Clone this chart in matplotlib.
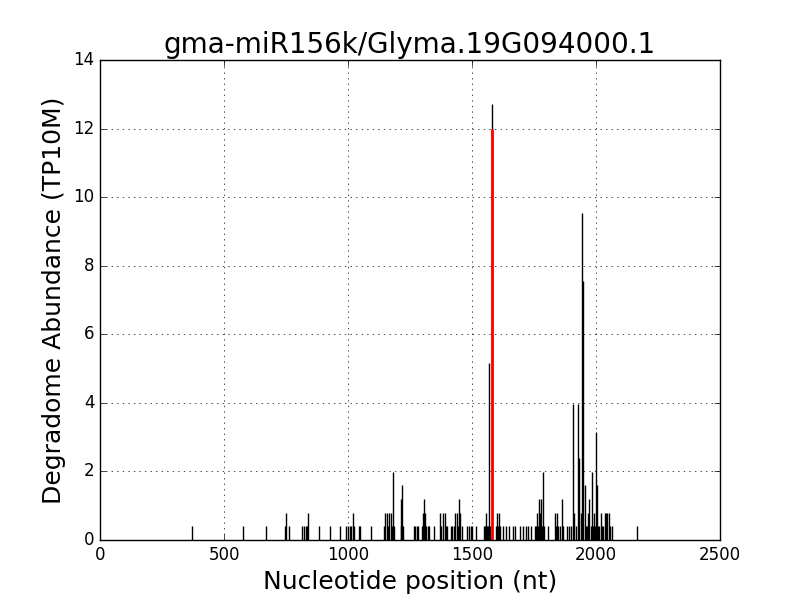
import matplotlib
matplotlib.use("Agg")
import matplotlib.pyplot as plt

# degradome reads: position (nt) and abundance (TP10M)
positions = [
    372, 578, 668, 747, 752, 763, 816, 824, 829, 835, 840, 883, 929, 969,
    993, 1001, 1009, 1014, 1020, 1024, 1043, 1047, 1094,
    1146, 1150, 1156, 1162, 1166, 1172, 1177, 1183, 1186,
    1212, 1215, 1219, 1222, 1268, 1272, 1278, 1281,
    1300, 1304, 1308, 1312, 1316, 1322, 1327, 1348,
    1371, 1376, 1384, 1390, 1395, 1400,
    1415, 1420, 1426, 1432, 1438, 1444, 1449, 1453, 1458,
    1478, 1486, 1494, 1502, 1516,
    1548, 1552, 1556, 1560, 1564, 1568, 1573, 1580,
    1597, 1602, 1606, 1610, 1613, 1626, 1637, 1650, 1664, 1675, 1694, 1707,
    1717, 1727, 1738,
    1754, 1758, 1762, 1766, 1770, 1774, 1778, 1782, 1786, 1790, 1808,
    1835, 1840, 1843, 1848, 1855, 1862, 1868, 1884, 1892, 1898,
    1907, 1913, 1919, 1928, 1933, 1940, 1945, 1949, 1954, 1960, 1965,
    1969, 1973, 1978, 1984, 1989, 1993, 1997, 2000, 2004, 2008, 2013,
    2020, 2024, 2030, 2036, 2041, 2046, 2052, 2058, 2063, 2167,
]
abundance = [
    0.40, 0.40, 0.40, 0.40, 0.79, 0.40, 0.40, 0.40, 0.40, 0.40, 0.79, 0.40, 0.40, 0.40,
    0.40, 0.40, 0.40, 0.40, 0.79, 0.40, 0.40, 0.40, 0.40,
    0.40, 0.79, 0.79, 0.40, 0.79, 0.79, 0.40, 1.98, 0.40,
    0.40, 1.19, 1.59, 0.40, 0.40, 0.40, 0.40, 0.40,
    0.40, 0.79, 1.19, 0.79, 0.40, 0.40, 0.40, 0.40,
    0.79, 0.40, 0.79, 0.79, 0.40, 0.40,
    0.40, 0.40, 0.40, 0.79, 0.79, 0.40, 1.19, 0.79, 0.40,
    0.40, 0.40, 0.40, 0.40, 0.40,
    0.40, 0.40, 0.79, 0.40, 0.40, 5.16, 0.40, 12.72,
    0.40, 0.79, 0.40, 0.79, 0.40, 0.40, 0.40, 0.40, 0.40, 0.40, 0.40, 0.40,
    0.40, 0.40, 0.40,
    0.40, 0.40, 0.79, 0.40, 1.19, 0.79, 1.19, 0.40, 1.98, 0.40, 0.40,
    0.79, 0.40, 0.79, 0.40, 0.40, 1.19, 0.40, 0.40, 0.40, 0.40,
    3.97, 0.79, 0.40, 3.97, 2.38, 0.79, 9.53, 7.54, 1.59, 0.40, 0.40,
    0.79, 1.19, 0.40, 1.98, 0.40, 0.79, 0.40, 3.16, 1.59, 0.40, 0.40,
    0.79, 0.40, 0.40, 0.79, 0.79, 0.79, 0.79, 0.40, 0.40, 0.40,
]

# predicted cleavage site
site_pos = 1580
site_val = 12.0

title = "gma-miR156k/Glyma.19G094000.1"

plt.style.use("classic")
fig = plt.figure(figsize=(8, 6), dpi=100)
ax = fig.add_subplot(111)

ax.vlines(positions, 0, abundance, colors="black", linewidth=1)
ax.vlines([site_pos], 0, [site_val], colors="red", linewidth=2)

ax.set_xlim(0, 2500)
ax.set_ylim(0, 14)
ax.grid(True)
ax.set_title(title, fontsize=20)
ax.set_xlabel("Nucleotide position (nt)", fontsize=18)
ax.set_ylabel("Degradome Abundance (TP10M)", fontsize=18)

fig.savefig("out.png", dpi=100)
